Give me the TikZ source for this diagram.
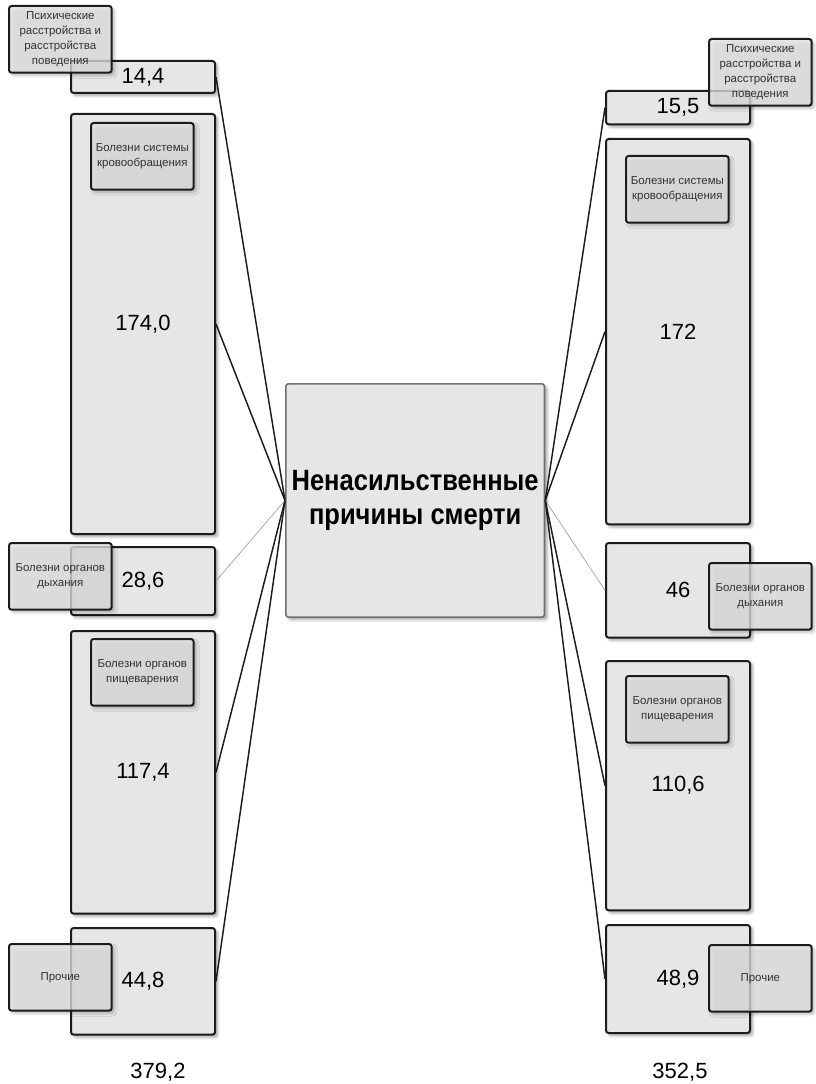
\documentclass[tikz,border=0pt]{standalone}
\usepackage{fontspec}
\setmainfont{Liberation Sans}
\newfontfamily\titlefont{Liberation Sans}[FakeStretch=0.87]
\usepackage{xcolor}
\usetikzlibrary{shadows.blur,positioning}
\definecolor{boxfill}{HTML}{E5E6E8}
\definecolor{boxedge}{HTML}{1C1C1C}
\definecolor{hubedge}{HTML}{707070}
\definecolor{faint}{HTML}{A0A0A0}
\definecolor{tagtext}{HTML}{333333}

\begin{document}
\begin{tikzpicture}[x=0.75pt,y=-0.75pt,
    valbox/.style={draw=boxedge, line width=1.5pt, rounded corners=2pt, fill=boxfill,
      anchor=north west, minimum width=108pt, inner sep=0pt,
      blur shadow={shadow xshift=2pt, shadow yshift=-2pt, shadow blur steps=4, shadow opacity=35},
      font=\fontsize{16.5}{19}\selectfont},
    tagbox/.style={draw=boxedge, line width=1.5pt, rounded corners=2pt, fill=boxfill,
      fill opacity=0.75, text opacity=1, anchor=north west, text=tagtext,
      minimum width=77pt, minimum height=50pt, inner sep=0pt, align=center,
      blur shadow={shadow xshift=2pt, shadow yshift=-2pt, shadow blur steps=4, shadow opacity=35},
      font=\fontsize{8.6}{11.2}\selectfont},
    link/.style={line width=1.1pt, draw=boxedge},
    thinlink/.style={line width=0.5pt, draw=faint}]
  \useasboundingbox (0,0) rectangle (815,1084);

  % centre
  \node[draw=hubedge, line width=1.2pt, rounded corners=2pt, fill=boxfill, anchor=north west,
        minimum width=194pt, minimum height=175pt, inner sep=0pt, align=center,
        blur shadow={shadow xshift=2pt, shadow yshift=-2pt, shadow blur steps=4, shadow opacity=35},
        font=\titlefont\bfseries\fontsize{22}{25}\selectfont] (hub) at (285,383)
        {Ненасильственные\\причины смерти};

  % left column
  \node[valbox, minimum height=24pt]  (psyL)  at (70,60)  {14,4};
  \node[valbox, minimum height=315pt] (circL) at (70,113) {174,0};
  \node[valbox, minimum height=51pt]  (respL) at (70,546) {28,6};
  \node[valbox, minimum height=212pt] (digL)  at (70,630) {117,4};
  \node[valbox, minimum height=80pt]  (othL)  at (70,927) {44,8};

  \node[tagbox] (psyLtag)  at (8,5)    {Психические\\расстройства и\\расстройства\\поведения};
  \node[tagbox] (circLtag) at (90,122) {Болезни системы\\кровообращения};
  \node[tagbox] (respLtag) at (8,542)  {Болезни органов\\дыхания};
  \node[tagbox] (digLtag)  at (90,638) {Болезни органов\\пищеварения};
  \node[tagbox] (othLtag)  at (8,943)  {Прочие};

  % right column
  \node[valbox, minimum height=25pt]  (psyR)  at (605,90)  {15,5};
  \node[valbox, minimum height=289pt] (circR) at (605,138) {172};
  \node[valbox, minimum height=71pt]  (respR) at (605,542) {46};
  \node[valbox, minimum height=187pt] (digR)  at (605,660) {110,6};
  \node[valbox, minimum height=81pt]  (othR)  at (605,924) {48,9};

  \node[tagbox] (psyRtag)  at (708,38)  {Психические\\расстройства и\\расстройства\\поведения};
  \node[tagbox] (circRtag) at (625,155) {Болезни системы\\кровообращения};
  \node[tagbox] (respRtag) at (708,562) {Болезни органов\\дыхания};
  \node[tagbox] (digRtag)  at (625,675) {Болезни органов\\пищеварения};
  \node[tagbox] (othRtag)  at (708,944) {Прочие};

  % totals
  \node[font=\fontsize{16.5}{19}\selectfont] (totalL) at (158,1072) {379,2};
  \node[font=\fontsize{16.5}{19}\selectfont] (totalR) at (680,1072) {352,5};

  % links
  \draw[link] (hub.west) -- (psyL.east);
  \draw[link] (hub.west) -- (circL.east);
  \draw[thinlink] (hub.west) -- (respL.east);
  \draw[link] (hub.west) -- (digL.east);
  \draw[link] (hub.west) -- (othL.east);
  \draw[link] (hub.east) -- (psyR.west);
  \draw[link] (hub.east) -- (circR.west);
  \draw[thinlink] (hub.east) -- (respR.west);
  \draw[link] (hub.east) -- (digR.west);
  \draw[link] (hub.east) -- (othR.west);
\end{tikzpicture}
\end{document}
